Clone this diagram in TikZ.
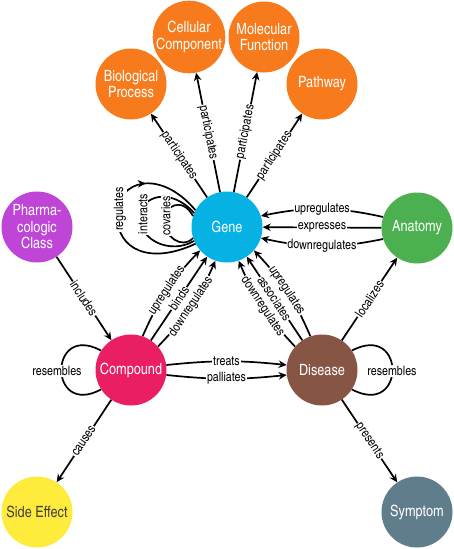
\documentclass[tikz,border=0pt]{standalone}
\usepackage{fontspec}
\setmainfont{texgyreheroscn}[Extension=.otf, UprightFont=*-regular, BoldFont=*-bold, ItalicFont=*-italic, BoldItalicFont=*-bolditalic]
\usetikzlibrary{arrows.meta,decorations.markings}
\definecolor{orangec}{HTML}{F77B1C}
\definecolor{genec}{HTML}{06B1E3}
\definecolor{anatc}{HTML}{4CAF50}
\definecolor{pharmc}{HTML}{BF45D6}
\definecolor{compc}{HTML}{E91E63}
\definecolor{disc}{HTML}{875543}
\definecolor{sidec}{HTML}{FFEB3B}
\definecolor{sidetext}{HTML}{424242}
\definecolor{sympc}{HTML}{607D8B}
\tikzset{
  ent/.style={circle, draw=none, minimum size=71pt, inner sep=0pt, text=white, align=center,
    font=\fontsize{15.5}{16.5}\selectfont},
  rel/.style={line width=1.7pt, -{Stealth[length=8pt,width=7.5pt]}},
  rel0/.style={line width=1.7pt},
  lbl/.style={fill=white, inner sep=0.8pt, text=black, sloped, font=\fontsize{13}{14}\selectfont},
  flbl/.style={fill=white, inner sep=0.8pt, text=black, font=\fontsize{13}{14}\selectfont},
}
\begin{document}
\begin{tikzpicture}[x=1pt,y=-1pt]
\useasboundingbox (0,0) rectangle (454,549);
% nodes
\node[ent, fill=orangec] (bp) at (131,84) {Biological\\Process};
\node[ent, fill=orangec] (cc) at (189,37) {Cellular\\Component};
\node[ent, fill=orangec] (mf) at (264,37) {Molecular\\Function};
\node[ent, fill=orangec] (pw) at (322,84) {Pathway};
\node[ent, fill=genec] (gene) at (227,227) {Gene};
\node[ent, fill=anatc] (anat) at (417,228) {Anatomy};
\node[ent, fill=pharmc] (pharm) at (37,227) {Pharma-\\cologic\\Class};
\node[ent, fill=compc] (comp) at (131,370) {Compound};
\node[ent, fill=disc] (dis) at (322,370) {Disease};
\node[ent, fill=sidec, text=sidetext] (side) at (37,512) {Side Effect};
\node[ent, fill=sympc] (symp) at (417,512) {Symptom};
% gene participates
\draw[rel] (gene) -- node[lbl]{participates} (bp);
\draw[rel] (gene) -- node[lbl]{participates} (cc);
\draw[rel] (gene) -- node[lbl]{participates} (mf);
\draw[rel] (gene) -- node[lbl]{participates} (pw);
% gene self loops
\draw[rel0, postaction={decorate}, decoration={markings, mark=at position 0.72 with {\arrow{Stealth[length=8pt,width=7.5pt]}}}]
  (gene.208) .. controls (150,265) and (117,250) .. (117,215) .. controls (117,180) and (160,168) .. (gene.152);
\draw[rel0] (gene.203) .. controls (170,255) and (140,240) .. (140,218) .. controls (140,196) and (170,186) .. (gene.157);
\draw[rel0] (gene.198) .. controls (182,250) and (164,236) .. (164,221) .. controls (164,206) and (182,196) .. (gene.162);
\node[flbl, rotate=90] (lreg) at (120,209) {regulates};
\node[flbl, rotate=90] (lint) at (143,214) {interacts};
\node[flbl, rotate=90] (lcov) at (166,216) {covaries};
% anatomy -> gene
\draw[rel] (anat.162) to[bend right=12] node[lbl]{upregulates} (gene.18);
\draw[rel] (anat) -- node[lbl]{expresses} (gene);
\draw[rel] (anat.198) to[bend left=12] node[lbl]{downregulates} (gene.-18);
% compound -> gene
\draw[rel] (comp.71) to[bend left=10] node[lbl]{upregulates} (gene.221);
\draw[rel] (comp) -- node[lbl]{binds} (gene);
\draw[rel] (comp.41) to[bend right=10] node[lbl]{downregulates} (gene.251);
% disease -> gene
\draw[rel] (dis.109) to[bend right=10] node[lbl]{upregulates} (gene.319);
\draw[rel] (dis) -- node[lbl]{associates} (gene);
\draw[rel] (dis.139) to[bend left=10] node[lbl]{downregulates} (gene.289);
% compound -> disease
\draw[rel] (comp.8) to[bend left=6] node[lbl]{treats} (dis.172);
\draw[rel] (comp.-8) to[bend right=6] node[lbl]{palliates} (dis.188);
% others
\draw[rel] (pharm) -- node[lbl]{includes} (comp);
\draw[rel] (comp) -- node[lbl]{causes} (side);
\draw[rel] (dis) -- node[lbl]{presents} (symp);
\draw[rel] (dis) -- node[lbl]{localizes} (anat);
% resembles loops
\draw[rel0] (comp.147) .. controls (48,322) and (48,418) .. (comp.213);
\draw[rel0] (dis.33) .. controls (406,322) and (406,418) .. (dis.-33);
\node[flbl] (lrc) at (57,371) {resembles};
\node[flbl] (lrd) at (392,371) {resembles};
\end{tikzpicture}
\end{document}
